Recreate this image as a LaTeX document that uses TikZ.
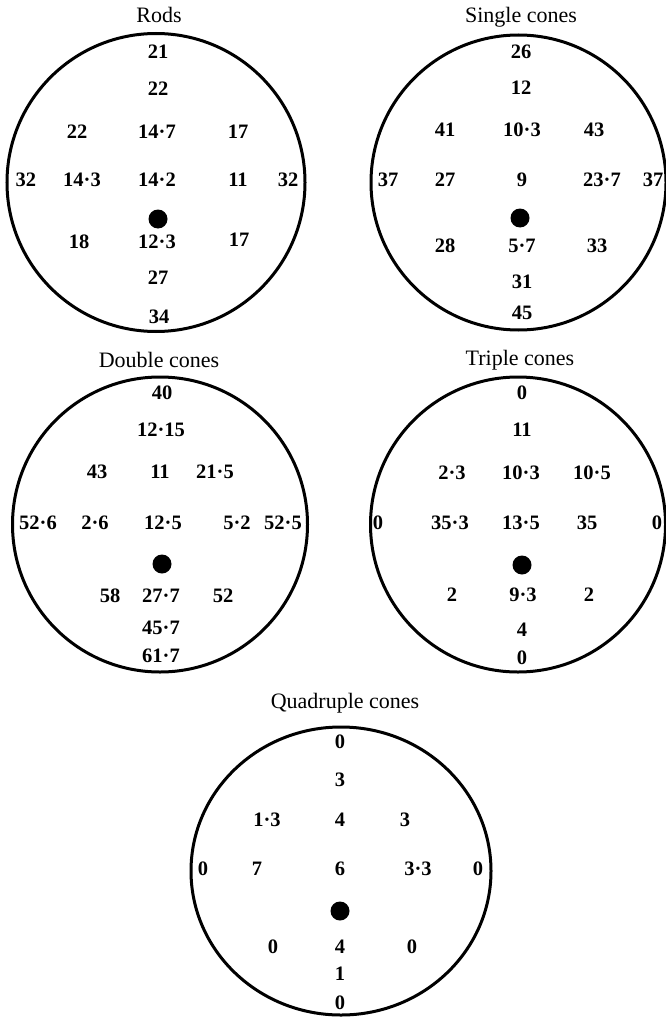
\documentclass[tikz,border=0pt]{standalone}
\usepackage{fontspec}
\setmainfont{Liberation Serif}
\begin{document}
\begin{tikzpicture}[x=1pt,y=-1pt,
  ring/.style={line width=3pt},
  spot/.style={circle,fill=black,inner sep=0pt,minimum size=19pt},
  num/.style={inner sep=0pt,anchor=center,font=\fontsize{20.5}{21}\selectfont\bfseries},
  ttl/.style={inner sep=0pt,anchor=base,font=\fontsize{22}{22}\selectfont}]
\useasboundingbox (0,0) rectangle (665,1019);

% ---------- Rods ----------
\node[ttl] (tRods) at (159,23) {Rods};
\draw[ring] (156,182.5) circle (149);
\node[spot] (dRods) at (158,219) {};
\foreach \x/\y/\t [count=\i] in {
  158/52/21, 158/89/22,
  77/132/22, 157/132/14·7, 238/132/17,
  26/180/32, 82/180/14·3, 157/180/14·2, 238/180/11, 288/180/32,
  79/242/18, 157/242/12·3, 239/240/17,
  158/278/27, 159/317/34}
  \node[num] (rods\i) at (\x,\y) {\t};

% ---------- Single cones ----------
\node[ttl] (tSingle) at (521,23) {Single cones};
\draw[ring] (518.5,182.5) circle (147.5);
\node[spot] (dSingle) at (520,218) {};
\foreach \x/\y/\t [count=\i] in {
  521/52/26, 521/88/12,
  445/130/41, 522/130/10·3, 594/130/43,
  388/180/37, 445/180/27, 522/180/9, 602/180/23·7, 653/180/37,
  445/246/28, 522/246/5·7, 597/246/33,
  522/282/31, 522/313/45}
  \node[num] (single\i) at (\x,\y) {\t};

% ---------- Double cones ----------
\node[ttl] (tDouble) at (159,367) {Double cones};
\draw[ring] (160,524.5) circle (147.5);
\node[spot] (dDouble) at (162,564) {};
\foreach \x/\y/\t [count=\i] in {
  162/393/40, 161/430/12·15,
  97/472/43, 160/472/11, 215/472/21·5,
  38/523/52·6, 95/523/2·6, 163/523/12·5, 237/523/5·2, 283/523/52·5,
  110/596/58, 161/596/27·7, 223/596/52,
  161/628/45·7, 161/656/61·7}
  \node[num] (double\i) at (\x,\y) {\t};

% ---------- Triple cones ----------
\node[ttl] (tTriple) at (520,365) {Triple cones};
\draw[ring] (518,524.5) circle (147.5);
\node[spot] (dTriple) at (522,565) {};
\foreach \x/\y/\t [count=\i] in {
  522/393/0, 522/430/11,
  452/473/2·3, 521/473/10·3, 592/473/10·5,
  378/523/0, 450/523/35·3, 521/523/13·5, 587/523/35, 657/523/0,
  452/595/2, 523/595/9·3, 589/595/2,
  522/630/4, 522/658/0}
  \node[num] (triple\i) at (\x,\y) {\t};

% ---------- Quadruple cones ----------
\node[ttl] (tQuad) at (345,708) {Quadruple cones};
\draw[ring] (341,871) ellipse (150 and 144);
\node[spot] (dQuad) at (340,911) {};
\foreach \x/\y/\t [count=\i] in {
  340/742/0, 340/780/3,
  267/820/1·3, 340/820/4, 405/820/3,
  203/869/0, 257/869/7, 340/869/6, 418/869/3·3, 478/869/0,
  273/947/0, 340/947/4, 412/947/0,
  340/974/1, 340/1003/0}
  \node[num] (quad\i) at (\x,\y) {\t};
\end{tikzpicture}
\end{document}
